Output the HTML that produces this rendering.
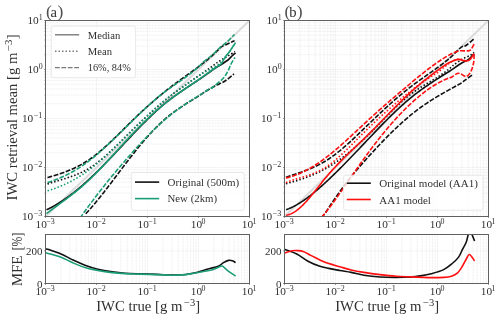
<!DOCTYPE html><html><head><meta charset="utf-8"><style>html,body{margin:0;padding:0;background:#fff;}svg{display:block;will-change:transform;} text{font-family:"Liberation Serif",serif;fill:#303030;}</style></head><body>
<svg width="500" height="320" viewBox="0 0 500 320">
<defs>
<clipPath id="ca"><rect x="45.50" y="20.50" width="204.00" height="196.00"/></clipPath>
<clipPath id="cb"><rect x="284.50" y="20.50" width="204.00" height="196.00"/></clipPath>
<clipPath id="cla"><rect x="45.50" y="234.50" width="204.00" height="49.00"/></clipPath>
<clipPath id="clb"><rect x="284.50" y="234.50" width="204.00" height="49.00"/></clipPath>
</defs>
<rect width="500" height="320" fill="#fff"/>
<g stroke="#dfdfdf" stroke-width="0.6" stroke-dasharray="0.8 0.7">
<line x1="45.50" y1="201.75" x2="249.50" y2="201.75"/>
<line x1="45.50" y1="193.12" x2="249.50" y2="193.12"/>
<line x1="45.50" y1="187.00" x2="249.50" y2="187.00"/>
<line x1="45.50" y1="182.25" x2="249.50" y2="182.25"/>
<line x1="45.50" y1="178.37" x2="249.50" y2="178.37"/>
<line x1="45.50" y1="175.09" x2="249.50" y2="175.09"/>
<line x1="45.50" y1="172.25" x2="249.50" y2="172.25"/>
<line x1="45.50" y1="169.74" x2="249.50" y2="169.74"/>
<line x1="96.50" y1="20.50" x2="96.50" y2="216.50"/>
<line x1="45.50" y1="167.50" x2="249.50" y2="167.50"/>
<line x1="45.50" y1="152.75" x2="249.50" y2="152.75"/>
<line x1="45.50" y1="144.12" x2="249.50" y2="144.12"/>
<line x1="45.50" y1="138.00" x2="249.50" y2="138.00"/>
<line x1="45.50" y1="133.25" x2="249.50" y2="133.25"/>
<line x1="45.50" y1="129.37" x2="249.50" y2="129.37"/>
<line x1="45.50" y1="126.09" x2="249.50" y2="126.09"/>
<line x1="45.50" y1="123.25" x2="249.50" y2="123.25"/>
<line x1="45.50" y1="120.74" x2="249.50" y2="120.74"/>
<line x1="147.50" y1="20.50" x2="147.50" y2="216.50"/>
<line x1="45.50" y1="118.50" x2="249.50" y2="118.50"/>
<line x1="45.50" y1="103.75" x2="249.50" y2="103.75"/>
<line x1="45.50" y1="95.12" x2="249.50" y2="95.12"/>
<line x1="45.50" y1="89.00" x2="249.50" y2="89.00"/>
<line x1="45.50" y1="84.25" x2="249.50" y2="84.25"/>
<line x1="45.50" y1="80.37" x2="249.50" y2="80.37"/>
<line x1="45.50" y1="77.09" x2="249.50" y2="77.09"/>
<line x1="45.50" y1="74.25" x2="249.50" y2="74.25"/>
<line x1="45.50" y1="71.74" x2="249.50" y2="71.74"/>
<line x1="198.50" y1="20.50" x2="198.50" y2="216.50"/>
<line x1="45.50" y1="69.50" x2="249.50" y2="69.50"/>
<line x1="45.50" y1="54.75" x2="249.50" y2="54.75"/>
<line x1="45.50" y1="46.12" x2="249.50" y2="46.12"/>
<line x1="45.50" y1="40.00" x2="249.50" y2="40.00"/>
<line x1="45.50" y1="35.25" x2="249.50" y2="35.25"/>
<line x1="45.50" y1="31.37" x2="249.50" y2="31.37"/>
<line x1="45.50" y1="28.09" x2="249.50" y2="28.09"/>
<line x1="45.50" y1="25.25" x2="249.50" y2="25.25"/>
<line x1="45.50" y1="22.74" x2="249.50" y2="22.74"/>
<line x1="60.85" y1="234.50" x2="60.85" y2="283.50"/>
<line x1="69.83" y1="234.50" x2="69.83" y2="283.50"/>
<line x1="76.21" y1="234.50" x2="76.21" y2="283.50"/>
<line x1="81.15" y1="234.50" x2="81.15" y2="283.50"/>
<line x1="85.19" y1="234.50" x2="85.19" y2="283.50"/>
<line x1="88.60" y1="234.50" x2="88.60" y2="283.50"/>
<line x1="91.56" y1="234.50" x2="91.56" y2="283.50"/>
<line x1="94.17" y1="234.50" x2="94.17" y2="283.50"/>
<line x1="96.50" y1="234.50" x2="96.50" y2="283.50"/>
<line x1="111.85" y1="234.50" x2="111.85" y2="283.50"/>
<line x1="120.83" y1="234.50" x2="120.83" y2="283.50"/>
<line x1="127.21" y1="234.50" x2="127.21" y2="283.50"/>
<line x1="132.15" y1="234.50" x2="132.15" y2="283.50"/>
<line x1="136.19" y1="234.50" x2="136.19" y2="283.50"/>
<line x1="139.60" y1="234.50" x2="139.60" y2="283.50"/>
<line x1="142.56" y1="234.50" x2="142.56" y2="283.50"/>
<line x1="145.17" y1="234.50" x2="145.17" y2="283.50"/>
<line x1="147.50" y1="234.50" x2="147.50" y2="283.50"/>
<line x1="162.85" y1="234.50" x2="162.85" y2="283.50"/>
<line x1="171.83" y1="234.50" x2="171.83" y2="283.50"/>
<line x1="178.21" y1="234.50" x2="178.21" y2="283.50"/>
<line x1="183.15" y1="234.50" x2="183.15" y2="283.50"/>
<line x1="187.19" y1="234.50" x2="187.19" y2="283.50"/>
<line x1="190.60" y1="234.50" x2="190.60" y2="283.50"/>
<line x1="193.56" y1="234.50" x2="193.56" y2="283.50"/>
<line x1="196.17" y1="234.50" x2="196.17" y2="283.50"/>
<line x1="198.50" y1="234.50" x2="198.50" y2="283.50"/>
<line x1="213.85" y1="234.50" x2="213.85" y2="283.50"/>
<line x1="222.83" y1="234.50" x2="222.83" y2="283.50"/>
<line x1="229.21" y1="234.50" x2="229.21" y2="283.50"/>
<line x1="234.15" y1="234.50" x2="234.15" y2="283.50"/>
<line x1="238.19" y1="234.50" x2="238.19" y2="283.50"/>
<line x1="241.60" y1="234.50" x2="241.60" y2="283.50"/>
<line x1="244.56" y1="234.50" x2="244.56" y2="283.50"/>
<line x1="247.17" y1="234.50" x2="247.17" y2="283.50"/>
<line x1="45.50" y1="250.83" x2="249.50" y2="250.83"/>
</g>
<line x1="45.50" y1="216.50" x2="249.50" y2="20.50" stroke="#dcdcdc" stroke-width="2.0"/>
<g stroke="#dfdfdf" stroke-width="0.6" stroke-dasharray="0.8 0.7">
<line x1="299.85" y1="20.50" x2="299.85" y2="216.50"/>
<line x1="284.50" y1="201.75" x2="488.50" y2="201.75"/>
<line x1="308.83" y1="20.50" x2="308.83" y2="216.50"/>
<line x1="284.50" y1="193.12" x2="488.50" y2="193.12"/>
<line x1="315.21" y1="20.50" x2="315.21" y2="216.50"/>
<line x1="284.50" y1="187.00" x2="488.50" y2="187.00"/>
<line x1="320.15" y1="20.50" x2="320.15" y2="216.50"/>
<line x1="284.50" y1="182.25" x2="488.50" y2="182.25"/>
<line x1="324.19" y1="20.50" x2="324.19" y2="216.50"/>
<line x1="284.50" y1="178.37" x2="488.50" y2="178.37"/>
<line x1="327.60" y1="20.50" x2="327.60" y2="216.50"/>
<line x1="284.50" y1="175.09" x2="488.50" y2="175.09"/>
<line x1="330.56" y1="20.50" x2="330.56" y2="216.50"/>
<line x1="284.50" y1="172.25" x2="488.50" y2="172.25"/>
<line x1="333.17" y1="20.50" x2="333.17" y2="216.50"/>
<line x1="284.50" y1="169.74" x2="488.50" y2="169.74"/>
<line x1="335.50" y1="20.50" x2="335.50" y2="216.50"/>
<line x1="284.50" y1="167.50" x2="488.50" y2="167.50"/>
<line x1="350.85" y1="20.50" x2="350.85" y2="216.50"/>
<line x1="284.50" y1="152.75" x2="488.50" y2="152.75"/>
<line x1="359.83" y1="20.50" x2="359.83" y2="216.50"/>
<line x1="284.50" y1="144.12" x2="488.50" y2="144.12"/>
<line x1="366.21" y1="20.50" x2="366.21" y2="216.50"/>
<line x1="284.50" y1="138.00" x2="488.50" y2="138.00"/>
<line x1="371.15" y1="20.50" x2="371.15" y2="216.50"/>
<line x1="284.50" y1="133.25" x2="488.50" y2="133.25"/>
<line x1="375.19" y1="20.50" x2="375.19" y2="216.50"/>
<line x1="284.50" y1="129.37" x2="488.50" y2="129.37"/>
<line x1="378.60" y1="20.50" x2="378.60" y2="216.50"/>
<line x1="284.50" y1="126.09" x2="488.50" y2="126.09"/>
<line x1="381.56" y1="20.50" x2="381.56" y2="216.50"/>
<line x1="284.50" y1="123.25" x2="488.50" y2="123.25"/>
<line x1="384.17" y1="20.50" x2="384.17" y2="216.50"/>
<line x1="284.50" y1="120.74" x2="488.50" y2="120.74"/>
<line x1="386.50" y1="20.50" x2="386.50" y2="216.50"/>
<line x1="284.50" y1="118.50" x2="488.50" y2="118.50"/>
<line x1="401.85" y1="20.50" x2="401.85" y2="216.50"/>
<line x1="284.50" y1="103.75" x2="488.50" y2="103.75"/>
<line x1="410.83" y1="20.50" x2="410.83" y2="216.50"/>
<line x1="284.50" y1="95.12" x2="488.50" y2="95.12"/>
<line x1="417.21" y1="20.50" x2="417.21" y2="216.50"/>
<line x1="284.50" y1="89.00" x2="488.50" y2="89.00"/>
<line x1="422.15" y1="20.50" x2="422.15" y2="216.50"/>
<line x1="284.50" y1="84.25" x2="488.50" y2="84.25"/>
<line x1="426.19" y1="20.50" x2="426.19" y2="216.50"/>
<line x1="284.50" y1="80.37" x2="488.50" y2="80.37"/>
<line x1="429.60" y1="20.50" x2="429.60" y2="216.50"/>
<line x1="284.50" y1="77.09" x2="488.50" y2="77.09"/>
<line x1="432.56" y1="20.50" x2="432.56" y2="216.50"/>
<line x1="284.50" y1="74.25" x2="488.50" y2="74.25"/>
<line x1="435.17" y1="20.50" x2="435.17" y2="216.50"/>
<line x1="284.50" y1="71.74" x2="488.50" y2="71.74"/>
<line x1="437.50" y1="20.50" x2="437.50" y2="216.50"/>
<line x1="284.50" y1="69.50" x2="488.50" y2="69.50"/>
<line x1="452.85" y1="20.50" x2="452.85" y2="216.50"/>
<line x1="284.50" y1="54.75" x2="488.50" y2="54.75"/>
<line x1="461.83" y1="20.50" x2="461.83" y2="216.50"/>
<line x1="284.50" y1="46.12" x2="488.50" y2="46.12"/>
<line x1="468.21" y1="20.50" x2="468.21" y2="216.50"/>
<line x1="284.50" y1="40.00" x2="488.50" y2="40.00"/>
<line x1="473.15" y1="20.50" x2="473.15" y2="216.50"/>
<line x1="284.50" y1="35.25" x2="488.50" y2="35.25"/>
<line x1="477.19" y1="20.50" x2="477.19" y2="216.50"/>
<line x1="284.50" y1="31.37" x2="488.50" y2="31.37"/>
<line x1="480.60" y1="20.50" x2="480.60" y2="216.50"/>
<line x1="284.50" y1="28.09" x2="488.50" y2="28.09"/>
<line x1="483.56" y1="20.50" x2="483.56" y2="216.50"/>
<line x1="284.50" y1="25.25" x2="488.50" y2="25.25"/>
<line x1="486.17" y1="20.50" x2="486.17" y2="216.50"/>
<line x1="284.50" y1="22.74" x2="488.50" y2="22.74"/>
<line x1="299.85" y1="234.50" x2="299.85" y2="283.50"/>
<line x1="308.83" y1="234.50" x2="308.83" y2="283.50"/>
<line x1="315.21" y1="234.50" x2="315.21" y2="283.50"/>
<line x1="320.15" y1="234.50" x2="320.15" y2="283.50"/>
<line x1="324.19" y1="234.50" x2="324.19" y2="283.50"/>
<line x1="327.60" y1="234.50" x2="327.60" y2="283.50"/>
<line x1="330.56" y1="234.50" x2="330.56" y2="283.50"/>
<line x1="333.17" y1="234.50" x2="333.17" y2="283.50"/>
<line x1="335.50" y1="234.50" x2="335.50" y2="283.50"/>
<line x1="350.85" y1="234.50" x2="350.85" y2="283.50"/>
<line x1="359.83" y1="234.50" x2="359.83" y2="283.50"/>
<line x1="366.21" y1="234.50" x2="366.21" y2="283.50"/>
<line x1="371.15" y1="234.50" x2="371.15" y2="283.50"/>
<line x1="375.19" y1="234.50" x2="375.19" y2="283.50"/>
<line x1="378.60" y1="234.50" x2="378.60" y2="283.50"/>
<line x1="381.56" y1="234.50" x2="381.56" y2="283.50"/>
<line x1="384.17" y1="234.50" x2="384.17" y2="283.50"/>
<line x1="386.50" y1="234.50" x2="386.50" y2="283.50"/>
<line x1="401.85" y1="234.50" x2="401.85" y2="283.50"/>
<line x1="410.83" y1="234.50" x2="410.83" y2="283.50"/>
<line x1="417.21" y1="234.50" x2="417.21" y2="283.50"/>
<line x1="422.15" y1="234.50" x2="422.15" y2="283.50"/>
<line x1="426.19" y1="234.50" x2="426.19" y2="283.50"/>
<line x1="429.60" y1="234.50" x2="429.60" y2="283.50"/>
<line x1="432.56" y1="234.50" x2="432.56" y2="283.50"/>
<line x1="435.17" y1="234.50" x2="435.17" y2="283.50"/>
<line x1="437.50" y1="234.50" x2="437.50" y2="283.50"/>
<line x1="452.85" y1="234.50" x2="452.85" y2="283.50"/>
<line x1="461.83" y1="234.50" x2="461.83" y2="283.50"/>
<line x1="468.21" y1="234.50" x2="468.21" y2="283.50"/>
<line x1="473.15" y1="234.50" x2="473.15" y2="283.50"/>
<line x1="477.19" y1="234.50" x2="477.19" y2="283.50"/>
<line x1="480.60" y1="234.50" x2="480.60" y2="283.50"/>
<line x1="483.56" y1="234.50" x2="483.56" y2="283.50"/>
<line x1="486.17" y1="234.50" x2="486.17" y2="283.50"/>
<line x1="284.50" y1="250.83" x2="488.50" y2="250.83"/>
</g>
<line x1="284.50" y1="216.50" x2="488.50" y2="20.50" stroke="#dcdcdc" stroke-width="2.0"/>
<path d="M85.70,213.79 L86.92,212.49 L88.13,211.17 L89.35,209.82 L90.57,208.45 L91.79,207.06 L93.00,205.65 L94.22,204.22 L95.44,202.77 L96.66,201.30 L97.87,199.81 L99.09,198.31 L100.31,196.80 L101.53,195.27 L102.74,193.73 L103.96,192.17 L105.18,190.61 L106.39,189.03 L107.61,187.45 L108.83,185.86 L110.05,184.26 L111.26,182.66 L112.48,181.05 L113.70,179.44 L114.92,177.82 L116.13,176.21 L117.35,174.59 L118.57,172.97 L119.79,171.35 L121.00,169.74 L122.22,168.13 L123.44,166.52 L124.66,164.92 L125.87,163.32 L127.09,161.73 L128.31,160.15 L129.52,158.58 L130.74,157.02 L131.96,155.46 L133.18,153.91 L134.39,152.38 L135.61,150.86 L136.83,149.35 L138.05,147.85 L139.26,146.36 L140.48,144.89 L141.70,143.43 L142.92,141.99 L144.13,140.56 L145.35,139.15 L146.57,137.76 L147.78,136.38 L149.00,135.02 L150.22,133.68 L151.44,132.36 L152.65,131.06 L153.87,129.77 L155.09,128.51 L156.31,127.27 L157.52,126.06 L158.74,124.86 L159.96,123.69 L161.18,122.55 L162.39,121.43 L163.61,120.33 L164.83,119.26 L166.04,118.22 L167.26,117.20 L168.48,116.21 L169.70,115.24 L170.91,114.29 L172.13,113.36 L173.35,112.45 L174.57,111.57 L175.78,110.70 L177.00,109.84 L178.22,109.00 L179.44,108.17 L180.65,107.36 L181.87,106.56 L183.09,105.76 L184.31,104.98 L185.52,104.20 L186.74,103.43 L187.96,102.66 L189.17,101.90 L190.39,101.14 L191.61,100.38 L192.83,99.62 L194.04,98.86 L195.26,98.10 L196.48,97.33 L197.70,96.56 L198.91,95.78 L200.13,95.00 L201.35,94.21 L202.57,93.40 L202.57,93.40 C202.77,93.27 203.38,92.86 203.78,92.59 C204.19,92.32 203.13,92.86 205.00,91.76 C206.87,90.66 211.67,87.79 215.00,86.00 C218.33,84.21 221.83,83.00 225.00,81.00 C228.17,79.00 232.50,75.17 234.00,74.00" fill="none" stroke="#111111" stroke-width="1.60" stroke-linejoin="round" stroke-dasharray="4.8 1.6" clip-path="url(#ca)"/>
<path d="M80.00,218.05 L81.22,216.34 L82.43,214.63 L83.65,212.94 L84.87,211.25 L86.08,209.58 L87.30,207.92 L88.52,206.26 L89.74,204.62 L90.95,202.98 L92.17,201.36 L93.39,199.75 L94.60,198.14 L95.82,196.55 L97.04,194.96 L98.25,193.38 L99.47,191.82 L100.69,190.26 L101.91,188.71 L103.12,187.16 L104.34,185.63 L105.56,184.11 L106.77,182.59 L107.99,181.08 L109.21,179.58 L110.42,178.09 L111.64,176.60 L112.86,175.13 L114.08,173.66 L115.29,172.19 L116.51,170.74 L117.73,169.29 L118.94,167.85 L120.16,166.41 L121.38,164.99 L122.59,163.56 L123.81,162.15 L125.03,160.74 L126.25,159.34 L127.46,157.94 L128.68,156.55 L129.90,155.17 L131.11,153.80 L132.33,152.43 L133.55,151.07 L134.76,149.71 L135.98,148.37 L137.20,147.03 L138.42,145.71 L139.63,144.39 L140.85,143.08 L142.07,141.78 L143.28,140.50 L144.50,139.22 L145.72,137.95 L146.93,136.70 L148.15,135.45 L149.37,134.22 L150.58,133.00 L151.80,131.79 L153.02,130.59 L154.24,129.41 L155.45,128.24 L156.67,127.08 L157.89,125.94 L159.10,124.81 L160.32,123.69 L161.54,122.59 L162.75,121.51 L163.97,120.44 L165.19,119.38 L166.41,118.34 L167.62,117.32 L168.84,116.31 L170.06,115.32 L171.27,114.35 L172.49,113.39 L173.71,112.46 L174.92,111.53 L176.14,110.63 L177.36,109.73 L178.58,108.85 L179.79,107.99 L181.01,107.13 L182.23,106.29 L183.44,105.46 L184.66,104.64 L185.88,103.83 L187.09,103.03 L188.31,102.24 L189.53,101.45 L190.75,100.67 L191.96,99.89 L193.18,99.12 L194.40,98.36 L195.61,97.60 L196.83,96.84 L198.05,96.08 L199.26,95.33 L200.48,94.57 L201.70,93.81 L202.92,93.06 L204.13,92.30 L205.35,91.54 L206.57,90.78 L206.57,90.78 C206.77,90.65 207.38,90.27 207.78,90.01 C208.19,89.75 208.13,89.74 209.00,89.24 C209.87,88.74 210.67,88.79 213.00,87.00 C215.33,85.21 220.50,81.17 223.00,78.50 C225.50,75.83 226.67,73.42 228.00,71.00 C229.33,68.58 229.83,66.25 231.00,64.00 C232.17,61.75 234.33,58.58 235.00,57.50" fill="none" stroke="#1b9e77" stroke-width="1.60" stroke-linejoin="round" stroke-dasharray="4.8 1.6" clip-path="url(#ca)"/>
<path d="M47.50,177.52 L48.71,177.19 L49.93,176.86 L51.14,176.51 L52.35,176.17 L53.57,175.81 L54.78,175.45 L55.99,175.08 L57.21,174.70 L58.42,174.31 L59.63,173.91 L60.85,173.50 L62.06,173.08 L63.27,172.65 L64.49,172.21 L65.70,171.75 L66.91,171.28 L68.13,170.80 L69.34,170.30 L70.55,169.79 L71.77,169.26 L72.98,168.72 L74.19,168.16 L75.41,167.58 L76.62,166.98 L77.83,166.37 L79.05,165.74 L80.26,165.09 L81.47,164.41 L82.69,163.72 L83.90,163.01 L85.11,162.27 L86.33,161.52 L87.54,160.74 L88.75,159.93 L89.97,159.10 L91.18,158.25 L92.39,157.38 L93.60,156.48 L94.82,155.55 L96.03,154.61 L97.24,153.64 L98.46,152.65 L99.67,151.65 L100.88,150.62 L102.10,149.58 L103.31,148.52 L104.52,147.44 L105.74,146.36 L106.95,145.25 L108.16,144.14 L109.38,143.01 L110.59,141.87 L111.80,140.72 L113.02,139.56 L114.23,138.39 L115.44,137.21 L116.66,136.03 L117.87,134.84 L119.08,133.65 L120.30,132.46 L121.51,131.26 L122.72,130.06 L123.94,128.85 L125.15,127.65 L126.36,126.45 L127.58,125.25 L128.79,124.05 L130.00,122.86 L131.22,121.67 L132.43,120.48 L133.64,119.30 L134.86,118.13 L136.07,116.97 L137.28,115.81 L138.50,114.67 L139.71,113.53 L140.92,112.39 L142.14,111.27 L143.35,110.15 L144.56,109.05 L145.78,107.95 L146.99,106.85 L148.20,105.77 L149.42,104.69 L150.63,103.62 L151.84,102.56 L153.06,101.51 L154.27,100.46 L155.48,99.42 L156.70,98.39 L157.91,97.37 L159.12,96.35 L160.34,95.35 L161.55,94.35 L162.76,93.36 L163.98,92.37 L165.19,91.40 L166.40,90.43 L167.62,89.47 L168.83,88.52 L170.04,87.57 L171.26,86.63 L172.47,85.70 L173.68,84.78 L174.90,83.87 L176.11,82.96 L177.32,82.06 L178.53,81.17 L179.75,80.29 L180.96,79.41 L182.17,78.54 L183.39,77.67 L184.60,76.81 L185.81,75.94 L187.03,75.08 L188.24,74.22 L189.45,73.36 L190.67,72.49 L191.88,71.62 L193.09,70.75 L194.31,69.87 L195.52,68.99 L196.73,68.09 L197.95,67.19 L199.16,66.28 L200.37,65.36 L201.59,64.42 L202.80,63.48 L204.01,62.51 L205.23,61.54 L206.44,60.54 L207.65,59.53 L208.87,58.50 L210.08,57.46 L211.29,56.39 L212.51,55.29 L213.72,54.18 L214.93,53.04 L216.15,51.88 L217.36,50.69 L218.57,49.48 L218.57,49.48 C218.78,49.27 219.38,48.65 219.79,48.23 C220.19,47.81 220.13,47.50 221.00,46.96 C221.87,46.42 223.58,45.64 225.00,45.00 C226.42,44.36 227.90,43.83 229.50,43.10 C231.10,42.37 233.75,41.02 234.60,40.60" fill="none" stroke="#111111" stroke-width="1.60" stroke-linejoin="round" stroke-dasharray="4.8 1.6" clip-path="url(#ca)"/>
<path d="M47.50,182.61 L48.71,182.22 L49.92,181.81 L51.13,181.40 L52.34,180.97 L53.56,180.53 L54.77,180.07 L55.98,179.61 L57.19,179.12 L58.40,178.63 L59.61,178.12 L60.82,177.59 L62.03,177.06 L63.25,176.50 L64.46,175.93 L65.67,175.35 L66.88,174.75 L68.09,174.14 L69.30,173.51 L70.51,172.86 L71.72,172.20 L72.94,171.52 L74.15,170.83 L75.36,170.12 L76.57,169.39 L77.78,168.64 L78.99,167.88 L80.20,167.10 L81.41,166.30 L82.63,165.48 L83.84,164.65 L85.05,163.80 L86.26,162.92 L87.47,162.03 L88.68,161.12 L89.89,160.20 L91.10,159.25 L92.32,158.29 L93.53,157.31 L94.74,156.32 L95.95,155.31 L97.16,154.29 L98.37,153.25 L99.58,152.20 L100.79,151.14 L102.01,150.07 L103.22,148.98 L104.43,147.88 L105.64,146.78 L106.85,145.66 L108.06,144.53 L109.27,143.40 L110.48,142.26 L111.70,141.11 L112.91,139.95 L114.12,138.78 L115.33,137.61 L116.54,136.44 L117.75,135.26 L118.96,134.08 L120.17,132.89 L121.39,131.70 L122.60,130.51 L123.81,129.31 L125.02,128.12 L126.23,126.92 L127.44,125.73 L128.65,124.53 L129.86,123.34 L131.08,122.15 L132.29,120.96 L133.50,119.77 L134.71,118.59 L135.92,117.41 L137.13,116.23 L138.34,115.06 L139.55,113.90 L140.77,112.74 L141.98,111.59 L143.19,110.44 L144.40,109.31 L145.61,108.18 L146.82,107.06 L148.03,105.95 L149.24,104.85 L150.46,103.76 L151.67,102.68 L152.88,101.61 L154.09,100.56 L155.30,99.52 L156.51,98.49 L157.72,97.47 L158.93,96.47 L160.15,95.49 L161.36,94.52 L162.57,93.56 L163.78,92.63 L164.99,91.71 L166.20,90.80 L167.41,89.92 L168.62,89.04 L169.84,88.18 L171.05,87.33 L172.26,86.48 L173.47,85.65 L174.68,84.81 L175.89,83.99 L177.10,83.16 L178.31,82.33 L179.53,81.50 L180.74,80.66 L181.95,79.82 L183.16,78.97 L184.37,78.12 L185.58,77.25 L186.79,76.36 L188.00,75.47 L189.22,74.56 L190.43,73.62 L191.64,72.67 L192.85,71.70 L194.06,70.70 L195.27,69.68 L196.48,68.63 L197.69,67.55 L198.91,66.44 L200.12,65.30 L201.33,64.13 L201.33,64.13 C201.53,63.93 202.14,63.33 202.54,62.92 C202.94,62.51 202.34,62.82 203.75,61.67 C205.16,60.52 208.29,58.36 211.00,56.00 C213.71,53.64 217.17,50.00 220.00,47.50 C222.83,45.00 225.58,43.17 228.00,41.00 C230.42,38.83 233.42,35.58 234.50,34.50" fill="none" stroke="#1b9e77" stroke-width="1.60" stroke-linejoin="round" stroke-dasharray="4.8 1.6" clip-path="url(#ca)"/>
<path d="M47.50,184.05 L48.71,183.63 L49.93,183.23 L51.14,182.84 L52.36,182.45 L53.57,182.08 L54.79,181.70 L56.00,181.33 L57.21,180.97 L58.43,180.60 L59.64,180.23 L60.86,179.87 L62.07,179.50 L63.29,179.13 L64.50,178.75 L65.71,178.37 L66.93,177.98 L68.14,177.59 L69.36,177.18 L70.57,176.77 L71.79,176.34 L73.00,175.90 L74.21,175.45 L75.43,174.98 L76.64,174.50 L77.86,173.99 L79.07,173.47 L80.29,172.93 L81.50,172.37 L82.71,171.78 L83.93,171.18 L85.14,170.54 L86.36,169.88 L87.57,169.20 L88.79,168.49 L90.00,167.74 L91.21,166.97 L92.43,166.17 L93.64,165.33 L94.86,164.48 L96.07,163.59 L97.29,162.68 L98.50,161.74 L99.71,160.79 L100.93,159.80 L102.14,158.80 L103.36,157.78 L104.57,156.74 L105.79,155.68 L107.00,154.60 L108.21,153.51 L109.43,152.40 L110.64,151.28 L111.86,150.14 L113.07,149.00 L114.29,147.84 L115.50,146.67 L116.71,145.50 L117.93,144.31 L119.14,143.12 L120.36,141.93 L121.57,140.73 L122.79,139.52 L124.00,138.32 L125.21,137.11 L126.43,135.90 L127.64,134.69 L128.86,133.49 L130.07,132.28 L131.29,131.08 L132.50,129.89 L133.71,128.70 L134.93,127.51 L136.14,126.34 L137.36,125.17 L138.57,124.00 L139.79,122.84 L141.00,121.69 L142.21,120.54 L143.43,119.41 L144.64,118.27 L145.86,117.15 L147.07,116.03 L148.29,114.92 L149.50,113.82 L150.71,112.72 L151.93,111.63 L153.14,110.55 L154.36,109.48 L155.57,108.41 L156.79,107.36 L158.00,106.31 L159.21,105.27 L160.43,104.23 L161.64,103.21 L162.86,102.19 L164.07,101.19 L165.29,100.19 L166.50,99.20 L167.71,98.22 L168.93,97.25 L170.14,96.28 L171.36,95.33 L172.57,94.39 L173.79,93.45 L175.00,92.53 L176.21,91.61 L177.43,90.71 L178.64,89.81 L179.86,88.92 L181.07,88.04 L182.29,87.17 L183.50,86.30 L184.71,85.44 L185.93,84.58 L187.14,83.73 L188.36,82.88 L189.57,82.04 L190.79,81.20 L192.00,80.36 L193.21,79.52 L194.43,78.69 L195.64,77.85 L196.86,77.02 L198.07,76.19 L199.29,75.35 L200.50,74.52 L201.71,73.68 L202.93,72.84 L204.14,72.00 L205.36,71.15 L206.57,70.30 L207.79,69.44 L209.00,68.58 L210.21,67.72 L211.43,66.84 L212.64,65.96 L213.86,65.08 L215.07,64.18 L215.07,64.18 C215.27,64.03 215.88,63.58 216.29,63.28 C216.69,62.98 216.55,63.00 217.50,62.37 C218.45,61.74 220.25,60.56 222.00,59.50 C223.75,58.44 225.83,57.33 228.00,56.00 C230.17,54.67 233.83,52.25 235.00,51.50" fill="none" stroke="#111111" stroke-width="1.60" stroke-linejoin="round" stroke-dasharray="1.5 2.0" clip-path="url(#ca)"/>
<path d="M47.50,190.77 L48.71,190.41 L49.92,190.04 L51.13,189.66 L52.34,189.26 L53.55,188.86 L54.77,188.43 L55.98,188.00 L57.19,187.55 L58.40,187.08 L59.61,186.60 L60.82,186.11 L62.03,185.60 L63.24,185.07 L64.45,184.54 L65.66,183.98 L66.88,183.41 L68.09,182.83 L69.30,182.22 L70.51,181.60 L71.72,180.97 L72.93,180.32 L74.14,179.65 L75.35,178.97 L76.56,178.26 L77.77,177.54 L78.98,176.81 L80.20,176.05 L81.41,175.28 L82.62,174.49 L83.83,173.68 L85.04,172.85 L86.25,172.00 L87.46,171.13 L88.67,170.25 L89.88,169.34 L91.09,168.42 L92.30,167.49 L93.52,166.53 L94.73,165.56 L95.94,164.57 L97.15,163.57 L98.36,162.56 L99.57,161.53 L100.78,160.49 L101.99,159.43 L103.20,158.37 L104.41,157.29 L105.62,156.19 L106.84,155.09 L108.05,153.98 L109.26,152.86 L110.47,151.73 L111.68,150.59 L112.89,149.44 L114.10,148.29 L115.31,147.12 L116.52,145.96 L117.73,144.78 L118.95,143.60 L120.16,142.41 L121.37,141.22 L122.58,140.03 L123.79,138.83 L125.00,137.63 L126.21,136.43 L127.42,135.22 L128.63,134.01 L129.84,132.81 L131.05,131.60 L132.27,130.39 L133.48,129.18 L134.69,127.98 L135.90,126.78 L137.11,125.58 L138.32,124.38 L139.53,123.19 L140.74,122.00 L141.95,120.82 L143.16,119.64 L144.38,118.47 L145.59,117.30 L146.80,116.14 L148.01,115.00 L149.22,113.85 L150.43,112.72 L151.64,111.60 L152.85,110.49 L154.06,109.39 L155.27,108.30 L156.48,107.22 L157.70,106.15 L158.91,105.10 L160.12,104.06 L161.33,103.04 L162.54,102.03 L163.75,101.04 L164.96,100.06 L166.17,99.10 L167.38,98.15 L168.59,97.21 L169.80,96.29 L171.02,95.38 L172.23,94.48 L173.44,93.59 L174.65,92.71 L175.86,91.84 L177.07,90.98 L178.28,90.13 L179.49,89.28 L180.70,88.43 L181.91,87.59 L183.12,86.76 L184.34,85.92 L185.55,85.09 L186.76,84.26 L187.97,83.43 L189.18,82.61 L190.39,81.78 L191.60,80.94 L192.81,80.11 L194.02,79.27 L195.23,78.43 L196.45,77.58 L197.66,76.72 L198.87,75.86 L200.08,74.99 L200.08,74.99 C200.28,74.85 200.89,74.41 201.29,74.11 C201.69,73.82 200.21,74.41 202.50,73.23 C204.79,72.04 211.92,68.87 215.00,67.00 C218.08,65.13 219.33,63.58 221.00,62.00 C222.67,60.42 223.50,59.33 225.00,57.50 C226.50,55.67 228.28,53.42 230.00,51.00 C231.72,48.58 234.42,44.33 235.30,43.00" fill="none" stroke="#1b9e77" stroke-width="1.60" stroke-linejoin="round" stroke-dasharray="1.5 2.0" clip-path="url(#ca)"/>
<path d="M46.50,209.84 L47.71,209.26 L48.92,208.67 L50.13,208.06 L51.34,207.43 L52.55,206.78 L53.76,206.11 L54.97,205.42 L56.18,204.71 L57.39,203.99 L58.60,203.25 L59.81,202.49 L61.02,201.71 L62.23,200.92 L63.44,200.11 L64.65,199.28 L65.86,198.44 L67.07,197.58 L68.28,196.70 L69.49,195.81 L70.70,194.90 L71.91,193.98 L73.12,193.04 L74.33,192.09 L75.54,191.12 L76.75,190.14 L77.96,189.14 L79.17,188.13 L80.38,187.11 L81.59,186.07 L82.80,185.02 L84.01,183.95 L85.22,182.87 L86.43,181.78 L87.64,180.68 L88.85,179.57 L90.06,178.44 L91.27,177.30 L92.48,176.15 L93.69,174.99 L94.90,173.82 L96.11,172.64 L97.32,171.45 L98.53,170.26 L99.74,169.05 L100.95,167.84 L102.16,166.62 L103.37,165.39 L104.58,164.15 L105.79,162.91 L107.00,161.66 L108.21,160.41 L109.42,159.15 L110.63,157.89 L111.84,156.62 L113.05,155.35 L114.26,154.08 L115.47,152.80 L116.68,151.52 L117.89,150.24 L119.10,148.95 L120.31,147.67 L121.52,146.38 L122.73,145.09 L123.94,143.80 L125.15,142.52 L126.36,141.23 L127.57,139.94 L128.78,138.66 L129.99,137.38 L131.20,136.10 L132.41,134.82 L133.62,133.55 L134.83,132.28 L136.04,131.01 L137.25,129.75 L138.46,128.50 L139.67,127.25 L140.88,126.01 L142.09,124.78 L143.30,123.55 L144.51,122.34 L145.72,121.13 L146.93,119.93 L148.14,118.74 L149.35,117.56 L150.56,116.39 L151.77,115.23 L152.98,114.09 L154.19,112.96 L155.40,111.83 L156.61,110.73 L157.82,109.63 L159.03,108.56 L160.24,107.49 L161.45,106.44 L162.66,105.41 L163.87,104.39 L165.08,103.40 L166.29,102.41 L167.50,101.45 L168.71,100.50 L169.92,99.57 L171.13,98.65 L172.34,97.74 L173.55,96.85 L174.76,95.97 L175.97,95.10 L177.18,94.24 L178.39,93.39 L179.60,92.55 L180.81,91.72 L182.02,90.89 L183.23,90.07 L184.44,89.26 L185.65,88.45 L186.86,87.64 L188.07,86.84 L189.28,86.04 L190.49,85.24 L191.70,84.44 L192.91,83.64 L194.12,82.84 L195.33,82.04 L196.54,81.23 L197.75,80.42 L198.96,79.61 L200.17,78.79 L201.38,77.97 L202.59,77.13 L202.59,77.13 C202.79,76.99 203.40,76.58 203.80,76.29 C204.20,76.01 203.14,76.78 205.01,75.45 C206.88,74.11 212.17,70.21 215.00,68.30 C217.83,66.39 219.83,65.38 222.00,64.00 C224.17,62.62 226.33,61.33 228.00,60.00 C229.67,58.67 230.75,57.20 232.00,56.00 C233.25,54.80 234.92,53.33 235.50,52.80" fill="none" stroke="#111111" stroke-width="1.60" stroke-linejoin="round" clip-path="url(#ca)"/>
<path d="M46.50,213.66 L47.71,212.73 L48.92,211.81 L50.13,210.90 L51.34,209.99 L52.55,209.09 L53.76,208.19 L54.97,207.30 L56.17,206.40 L57.38,205.51 L58.59,204.62 L59.80,203.73 L61.01,202.84 L62.22,201.95 L63.43,201.05 L64.64,200.16 L65.85,199.25 L67.06,198.34 L68.27,197.43 L69.48,196.51 L70.69,195.58 L71.90,194.65 L73.10,193.70 L74.31,192.75 L75.52,191.78 L76.73,190.81 L77.94,189.82 L79.15,188.81 L80.36,187.80 L81.57,186.77 L82.78,185.72 L83.99,184.66 L85.20,183.57 L86.41,182.48 L87.62,181.36 L88.83,180.23 L90.03,179.08 L91.24,177.91 L92.45,176.73 L93.66,175.54 L94.87,174.33 L96.08,173.11 L97.29,171.88 L98.50,170.63 L99.71,169.38 L100.92,168.12 L102.13,166.84 L103.34,165.56 L104.55,164.27 L105.76,162.97 L106.97,161.67 L108.17,160.36 L109.38,159.05 L110.59,157.73 L111.80,156.41 L113.01,155.09 L114.22,153.76 L115.43,152.43 L116.64,151.11 L117.85,149.78 L119.06,148.45 L120.27,147.12 L121.48,145.80 L122.69,144.48 L123.90,143.16 L125.10,141.85 L126.31,140.54 L127.52,139.24 L128.73,137.94 L129.94,136.65 L131.15,135.37 L132.36,134.09 L133.57,132.82 L134.78,131.55 L135.99,130.30 L137.20,129.05 L138.41,127.81 L139.62,126.58 L140.83,125.35 L142.03,124.14 L143.24,122.94 L144.45,121.75 L145.66,120.56 L146.87,119.39 L148.08,118.23 L149.29,117.08 L150.50,115.94 L151.71,114.82 L152.92,113.71 L154.13,112.61 L155.34,111.52 L156.55,110.45 L157.76,109.39 L158.97,108.34 L160.17,107.31 L161.38,106.30 L162.59,105.30 L163.80,104.31 L165.01,103.34 L166.22,102.39 L167.43,101.45 L168.64,100.52 L169.85,99.61 L171.06,98.71 L172.27,97.82 L173.48,96.94 L174.69,96.07 L175.90,95.20 L177.10,94.35 L178.31,93.50 L179.52,92.66 L180.73,91.83 L181.94,91.00 L183.15,90.17 L184.36,89.35 L185.57,88.53 L186.78,87.71 L187.99,86.90 L189.20,86.08 L190.41,85.26 L191.62,84.45 L192.83,83.63 L194.03,82.80 L195.24,81.98 L196.45,81.15 L197.66,80.31 L198.87,79.47 L200.08,78.62 L200.08,78.62 C200.28,78.48 200.89,78.05 201.29,77.77 C201.69,77.48 200.22,78.53 202.50,76.90 C204.78,75.28 211.92,70.15 215.00,68.00 C218.08,65.85 219.33,65.75 221.00,64.00 C222.67,62.25 223.50,59.67 225.00,57.50 C226.50,55.33 228.25,53.48 230.00,51.00 C231.75,48.52 234.58,44.00 235.50,42.60" fill="none" stroke="#1b9e77" stroke-width="1.60" stroke-linejoin="round" clip-path="url(#ca)"/>
<path d="M321.40,217.50 L324.75,213.98 L325.97,212.03 L327.18,210.11 L328.40,208.21 L329.62,206.33 L330.84,204.48 L332.05,202.66 L333.27,200.86 L334.49,199.08 L335.71,197.32 L336.92,195.59 L338.14,193.88 L339.36,192.19 L340.58,190.52 L341.79,188.87 L343.01,187.24 L344.23,185.63 L345.45,184.04 L346.66,182.46 L347.88,180.90 L349.10,179.36 L350.32,177.84 L351.53,176.33 L352.75,174.83 L353.97,173.35 L355.19,171.89 L356.40,170.43 L357.62,169.00 L358.84,167.57 L360.05,166.15 L361.27,164.75 L362.49,163.35 L363.71,161.97 L364.92,160.60 L366.14,159.23 L367.36,157.87 L368.58,156.52 L369.79,155.18 L371.01,153.85 L372.23,152.52 L373.45,151.20 L374.66,149.88 L375.88,148.57 L377.10,147.27 L378.32,145.98 L379.53,144.69 L380.75,143.41 L381.97,142.14 L383.19,140.88 L384.40,139.63 L385.62,138.38 L386.84,137.15 L388.06,135.92 L389.27,134.70 L390.49,133.50 L391.71,132.30 L392.93,131.12 L394.14,129.94 L395.36,128.78 L396.58,127.62 L397.79,126.48 L399.01,125.35 L400.23,124.23 L401.45,123.12 L402.66,122.03 L403.88,120.95 L405.10,119.88 L406.32,118.82 L407.53,117.78 L408.75,116.75 L409.97,115.74 L411.19,114.74 L412.40,113.75 L413.62,112.78 L414.84,111.82 L416.06,110.88 L417.27,109.95 L418.49,109.04 L419.71,108.14 L420.93,107.26 L422.14,106.39 L423.36,105.54 L424.58,104.70 L425.80,103.87 L427.01,103.05 L428.23,102.25 L429.45,101.45 L430.66,100.67 L431.88,99.90 L433.10,99.13 L434.32,98.38 L435.53,97.64 L436.75,96.90 L437.97,96.17 L439.19,95.45 L440.40,94.74 L441.62,94.03 L442.84,93.33 L444.06,92.63 L445.27,91.94 L446.49,91.26 L447.71,90.58 L448.93,89.90 L450.14,89.22 L451.36,88.55 L452.58,87.88 L453.80,87.21 L455.01,86.55 L456.23,85.88 L457.45,85.21 L458.67,84.55 L458.67,84.55 C458.87,84.44 459.48,84.10 459.88,83.88 C460.29,83.66 460.23,83.83 461.10,83.21 C461.97,82.60 463.08,81.70 465.10,80.20 C467.12,78.70 471.85,75.20 473.20,74.20" fill="none" stroke="#111111" stroke-width="1.60" stroke-linejoin="round" stroke-dasharray="4.8 1.6" clip-path="url(#cb)"/>
<path d="M321.40,217.50 L324.75,213.68 L325.97,212.12 L327.20,210.54 L328.42,208.94 L329.64,207.32 L330.86,205.69 L332.09,204.04 L333.31,202.38 L334.53,200.70 L335.75,199.01 L336.98,197.31 L338.20,195.59 L339.42,193.87 L340.64,192.14 L341.87,190.40 L343.09,188.66 L344.31,186.91 L345.53,185.15 L346.76,183.39 L347.98,181.63 L349.20,179.86 L350.42,178.10 L351.65,176.33 L352.87,174.56 L354.09,172.80 L355.31,171.04 L356.54,169.28 L357.76,167.53 L358.98,165.78 L360.21,164.04 L361.43,162.31 L362.65,160.59 L363.87,158.87 L365.10,157.17 L366.32,155.48 L367.54,153.80 L368.76,152.13 L369.99,150.47 L371.21,148.83 L372.43,147.21 L373.65,145.59 L374.88,143.99 L376.10,142.41 L377.32,140.83 L378.54,139.27 L379.77,137.73 L380.99,136.20 L382.21,134.68 L383.43,133.18 L384.66,131.70 L385.88,130.22 L387.10,128.77 L388.32,127.32 L389.55,125.90 L390.77,124.49 L391.99,123.09 L393.22,121.71 L394.44,120.34 L395.66,118.99 L396.88,117.66 L398.11,116.34 L399.33,115.04 L400.55,113.75 L401.77,112.48 L403.00,111.23 L404.22,110.00 L405.44,108.78 L406.66,107.57 L407.89,106.39 L409.11,105.22 L410.33,104.07 L411.55,102.93 L412.78,101.81 L414.00,100.72 L415.22,99.63 L416.44,98.57 L417.67,97.53 L418.89,96.50 L420.11,95.50 L421.34,94.51 L422.56,93.55 L423.78,92.60 L425.00,91.67 L426.23,90.77 L427.45,89.89 L428.67,89.02 L429.89,88.18 L431.12,87.36 L432.34,86.56 L433.56,85.79 L434.78,85.03 L436.01,84.30 L437.23,83.59 L438.45,82.91 L439.67,82.25 L440.90,81.61 L442.12,81.00 L443.34,80.41 L444.56,79.84 L445.79,79.30 L447.01,78.79 L448.23,78.30 L449.45,77.84 L449.45,77.84 C449.66,77.76 450.27,77.54 450.68,77.40 C451.08,77.26 450.80,77.65 451.90,76.99 C453.00,76.32 455.73,73.90 457.25,73.40 C458.77,72.90 459.50,73.48 461.00,74.00 C462.50,74.52 464.62,76.88 466.25,76.50 C467.88,76.12 469.52,74.04 470.75,71.75 C471.98,69.46 473.04,65.71 473.60,62.75 C474.16,59.79 474.02,55.46 474.10,54.00" fill="none" stroke="#ff0f0f" stroke-width="1.60" stroke-linejoin="round" stroke-dasharray="4.8 1.6" clip-path="url(#cb)"/>
<path d="M285.90,177.32 L287.11,176.90 L288.32,176.49 L289.54,176.08 L290.75,175.67 L291.96,175.27 L293.17,174.86 L294.38,174.45 L295.59,174.05 L296.81,173.64 L298.02,173.22 L299.23,172.81 L300.44,172.38 L301.65,171.95 L302.86,171.52 L304.08,171.08 L305.29,170.62 L306.50,170.16 L307.71,169.69 L308.92,169.21 L310.13,168.72 L311.35,168.21 L312.56,167.69 L313.77,167.15 L314.98,166.60 L316.19,166.04 L317.40,165.45 L318.62,164.85 L319.83,164.23 L321.04,163.59 L322.25,162.92 L323.46,162.24 L324.67,161.53 L325.89,160.81 L327.10,160.05 L328.31,159.27 L329.52,158.47 L330.73,157.64 L331.94,156.79 L333.16,155.92 L334.37,155.03 L335.58,154.11 L336.79,153.18 L338.00,152.22 L339.21,151.25 L340.43,150.26 L341.64,149.26 L342.85,148.24 L344.06,147.20 L345.27,146.15 L346.48,145.08 L347.70,144.00 L348.91,142.92 L350.12,141.81 L351.33,140.70 L352.54,139.58 L353.75,138.45 L354.97,137.32 L356.18,136.17 L357.39,135.02 L358.60,133.86 L359.81,132.70 L361.02,131.54 L362.24,130.37 L363.45,129.20 L364.66,128.03 L365.87,126.85 L367.08,125.68 L368.29,124.51 L369.51,123.34 L370.72,122.17 L371.93,121.00 L373.14,119.84 L374.35,118.68 L375.56,117.52 L376.78,116.37 L377.99,115.22 L379.20,114.08 L380.41,112.93 L381.62,111.80 L382.83,110.67 L384.05,109.54 L385.26,108.42 L386.47,107.31 L387.68,106.20 L388.89,105.10 L390.10,104.01 L391.32,102.92 L392.53,101.85 L393.74,100.78 L394.95,99.71 L396.16,98.66 L397.37,97.61 L398.59,96.58 L399.80,95.55 L401.01,94.53 L402.22,93.53 L403.43,92.53 L404.64,91.54 L405.86,90.57 L407.07,89.60 L408.28,88.65 L409.49,87.71 L410.70,86.78 L411.91,85.86 L413.13,84.95 L414.34,84.06 L415.55,83.17 L416.76,82.29 L417.97,81.42 L419.18,80.56 L420.40,79.70 L421.61,78.84 L422.82,77.99 L424.03,77.14 L425.24,76.30 L426.45,75.45 L427.67,74.60 L428.88,73.76 L430.09,72.91 L431.30,72.05 L432.51,71.20 L433.72,70.34 L434.94,69.47 L436.15,68.59 L437.36,67.71 L438.57,66.82 L439.78,65.92 L440.99,65.01 L442.21,64.09 L443.42,63.16 L444.63,62.21 L445.84,61.25 L447.05,60.27 L448.26,59.28 L449.48,58.27 L449.48,58.27 C449.68,58.10 450.28,57.59 450.69,57.24 C451.09,56.89 450.98,57.08 451.90,56.19 C452.82,55.30 454.56,53.47 456.20,51.90 C457.84,50.33 460.12,47.87 461.75,46.80 C463.38,45.73 463.94,46.87 466.00,45.50 C468.06,44.13 472.75,39.75 474.10,38.60" fill="none" stroke="#111111" stroke-width="1.60" stroke-linejoin="round" stroke-dasharray="4.8 1.6" clip-path="url(#cb)"/>
<path d="M285.90,177.94 L287.11,177.67 L288.32,177.38 L289.54,177.07 L290.75,176.72 L291.96,176.36 L293.17,175.97 L294.38,175.56 L295.59,175.12 L296.81,174.67 L298.02,174.19 L299.23,173.68 L300.44,173.16 L301.65,172.61 L302.86,172.05 L304.08,171.46 L305.29,170.85 L306.50,170.22 L307.71,169.57 L308.92,168.90 L310.13,168.21 L311.35,167.50 L312.56,166.78 L313.77,166.03 L314.98,165.27 L316.19,164.49 L317.40,163.69 L318.62,162.88 L319.83,162.04 L321.04,161.19 L322.25,160.33 L323.46,159.45 L324.67,158.55 L325.89,157.64 L327.10,156.71 L328.31,155.77 L329.52,154.81 L330.73,153.84 L331.94,152.86 L333.16,151.86 L334.37,150.86 L335.58,149.84 L336.79,148.81 L338.00,147.77 L339.21,146.72 L340.43,145.66 L341.64,144.59 L342.85,143.52 L344.06,142.43 L345.27,141.34 L346.48,140.25 L347.70,139.15 L348.91,138.04 L350.12,136.93 L351.33,135.81 L352.54,134.69 L353.75,133.57 L354.97,132.44 L356.18,131.32 L357.39,130.19 L358.60,129.06 L359.81,127.93 L361.02,126.80 L362.24,125.67 L363.45,124.55 L364.66,123.42 L365.87,122.30 L367.08,121.18 L368.29,120.06 L369.51,118.95 L370.72,117.85 L371.93,116.75 L373.14,115.65 L374.35,114.56 L375.56,113.47 L376.78,112.38 L377.99,111.30 L379.20,110.22 L380.41,109.15 L381.62,108.08 L382.83,107.01 L384.05,105.95 L385.26,104.89 L386.47,103.83 L387.68,102.78 L388.89,101.73 L390.10,100.68 L391.32,99.64 L392.53,98.60 L393.74,97.56 L394.95,96.52 L396.16,95.49 L397.37,94.46 L398.59,93.43 L399.80,92.40 L401.01,91.38 L402.22,90.36 L403.43,89.34 L404.64,88.32 L405.86,87.30 L407.07,86.28 L408.28,85.27 L409.49,84.26 L410.70,83.25 L411.91,82.24 L413.13,81.23 L414.34,80.22 L415.55,79.22 L416.76,78.22 L417.97,77.23 L419.18,76.24 L420.40,75.26 L421.61,74.28 L422.82,73.31 L424.03,72.35 L425.24,71.39 L426.45,70.44 L427.67,69.51 L428.88,68.58 L430.09,67.66 L431.30,66.75 L432.51,65.86 L433.72,64.98 L434.94,64.10 L436.15,63.25 L437.36,62.40 L438.57,61.57 L439.78,60.76 L440.99,59.96 L442.21,59.18 L443.42,58.41 L444.63,57.67 L445.84,56.94 L447.05,56.22 L448.26,55.53 L449.48,54.86 L449.48,54.86 C449.68,54.75 450.28,54.42 450.69,54.21 C451.09,53.99 450.43,54.13 451.90,53.58 C453.37,53.02 456.92,51.35 459.50,50.90 C462.08,50.45 465.52,51.09 467.40,50.90 C469.27,50.71 469.63,50.87 470.75,49.75 C471.87,48.63 473.54,45.12 474.10,44.20" fill="none" stroke="#ff0f0f" stroke-width="1.60" stroke-linejoin="round" stroke-dasharray="4.8 1.6" clip-path="url(#cb)"/>
<path d="M285.90,183.72 L287.12,183.40 L288.33,183.07 L289.55,182.74 L290.77,182.41 L291.98,182.07 L293.20,181.72 L294.41,181.37 L295.63,181.01 L296.85,180.64 L298.06,180.26 L299.28,179.88 L300.50,179.48 L301.71,179.08 L302.93,178.67 L304.14,178.25 L305.36,177.81 L306.58,177.37 L307.79,176.91 L309.01,176.45 L310.23,175.97 L311.44,175.48 L312.66,174.97 L313.88,174.45 L315.09,173.92 L316.31,173.37 L317.52,172.81 L318.74,172.23 L319.96,171.64 L321.17,171.03 L322.39,170.41 L323.61,169.76 L324.82,169.10 L326.04,168.42 L327.25,167.73 L328.47,167.01 L329.69,166.28 L330.90,165.53 L332.12,164.75 L333.34,163.97 L334.55,163.16 L335.77,162.33 L336.98,161.49 L338.20,160.63 L339.42,159.76 L340.63,158.87 L341.85,157.96 L343.07,157.04 L344.28,156.10 L345.50,155.15 L346.72,154.18 L347.93,153.19 L349.15,152.20 L350.36,151.18 L351.58,150.16 L352.80,149.12 L354.01,148.07 L355.23,147.00 L356.45,145.93 L357.66,144.84 L358.88,143.73 L360.09,142.62 L361.31,141.49 L362.53,140.36 L363.74,139.21 L364.96,138.05 L366.18,136.88 L367.39,135.70 L368.61,134.52 L369.82,133.32 L371.04,132.11 L372.26,130.90 L373.47,129.67 L374.69,128.44 L375.91,127.21 L377.12,125.97 L378.34,124.73 L379.56,123.49 L380.77,122.24 L381.99,121.00 L383.20,119.76 L384.42,118.52 L385.64,117.28 L386.85,116.05 L388.07,114.82 L389.29,113.60 L390.50,112.38 L391.72,111.18 L392.93,109.98 L394.15,108.79 L395.37,107.62 L396.58,106.46 L397.80,105.31 L399.02,104.17 L400.23,103.05 L401.45,101.95 L402.67,100.87 L403.88,99.80 L405.10,98.76 L406.31,97.73 L407.53,96.73 L408.75,95.75 L409.96,94.79 L411.18,93.86 L412.40,92.95 L413.61,92.07 L414.83,91.22 L416.04,90.38 L417.26,89.57 L418.48,88.77 L419.69,87.99 L420.91,87.22 L422.13,86.47 L423.34,85.72 L424.56,84.99 L425.77,84.26 L426.99,83.53 L428.21,82.81 L429.42,82.09 L430.64,81.37 L431.86,80.64 L433.07,79.91 L434.29,79.17 L435.51,78.43 L436.72,77.67 L437.94,76.90 L439.15,76.12 L440.37,75.32 L441.59,74.51 L442.80,73.67 L444.02,72.81 L445.24,71.93 L446.45,71.02 L447.67,70.08 L448.88,69.12 L450.10,68.12 L451.32,67.09 L451.32,67.09 C451.52,66.92 452.13,66.39 452.53,66.03 C452.94,65.67 452.21,66.03 453.75,64.93 C455.29,63.82 458.92,61.05 461.75,59.40 C464.58,57.75 468.69,56.18 470.75,55.00 C472.81,53.82 473.54,52.75 474.10,52.30" fill="none" stroke="#111111" stroke-width="1.60" stroke-linejoin="round" stroke-dasharray="1.5 2.0" clip-path="url(#cb)"/>
<path d="M285.90,182.63 L287.11,182.14 L288.32,181.67 L289.54,181.22 L290.75,180.79 L291.96,180.38 L293.17,179.98 L294.39,179.59 L295.60,179.21 L296.81,178.84 L298.02,178.47 L299.24,178.11 L300.45,177.75 L301.66,177.39 L302.88,177.03 L304.09,176.66 L305.30,176.29 L306.51,175.91 L307.72,175.52 L308.94,175.12 L310.15,174.70 L311.36,174.27 L312.57,173.82 L313.79,173.35 L315.00,172.86 L316.21,172.35 L317.42,171.81 L318.64,171.24 L319.85,170.64 L321.06,170.01 L322.27,169.35 L323.49,168.65 L324.70,167.91 L325.91,167.14 L327.12,166.33 L328.34,165.49 L329.55,164.62 L330.76,163.72 L331.97,162.79 L333.19,161.83 L334.40,160.84 L335.61,159.83 L336.82,158.80 L338.04,157.74 L339.25,156.67 L340.46,155.57 L341.67,154.46 L342.89,153.33 L344.10,152.18 L345.31,151.02 L346.52,149.85 L347.74,148.67 L348.95,147.48 L350.16,146.28 L351.38,145.07 L352.59,143.86 L353.80,142.64 L355.01,141.42 L356.22,140.21 L357.44,138.99 L358.65,137.77 L359.86,136.56 L361.07,135.35 L362.29,134.15 L363.50,132.95 L364.71,131.76 L365.92,130.58 L367.14,129.40 L368.35,128.23 L369.56,127.06 L370.77,125.90 L371.99,124.74 L373.20,123.60 L374.41,122.45 L375.62,121.32 L376.84,120.19 L378.05,119.06 L379.26,117.94 L380.48,116.83 L381.69,115.72 L382.90,114.62 L384.11,113.53 L385.32,112.44 L386.54,111.36 L387.75,110.28 L388.96,109.21 L390.17,108.14 L391.39,107.08 L392.60,106.03 L393.81,104.98 L395.02,103.94 L396.24,102.90 L397.45,101.87 L398.66,100.85 L399.88,99.83 L401.09,98.81 L402.30,97.81 L403.51,96.81 L404.73,95.81 L405.94,94.83 L407.15,93.85 L408.36,92.88 L409.57,91.92 L410.79,90.97 L412.00,90.02 L413.21,89.09 L414.42,88.16 L415.64,87.25 L416.85,86.34 L418.06,85.45 L419.27,84.57 L420.49,83.70 L421.70,82.84 L422.91,81.99 L424.12,81.15 L425.34,80.33 L426.55,79.52 L427.76,78.72 L428.98,77.94 L430.19,77.17 L431.40,76.41 L432.61,75.67 L433.82,74.94 L433.82,74.94 C434.03,74.83 434.63,74.47 435.04,74.23 C435.44,74.00 434.59,74.83 436.25,73.54 C437.91,72.25 442.54,68.42 445.00,66.50 C447.46,64.58 448.75,63.25 451.00,62.00 C453.25,60.75 456.15,59.25 458.50,59.00 C460.85,58.75 463.25,60.45 465.10,60.50 C466.95,60.55 468.10,60.55 469.60,59.30 C471.10,58.05 473.35,54.05 474.10,53.00" fill="none" stroke="#ff0f0f" stroke-width="1.60" stroke-linejoin="round" stroke-dasharray="1.5 2.0" clip-path="url(#cb)"/>
<path d="M286.10,209.82 L287.31,209.36 L288.52,208.87 L289.73,208.35 L290.94,207.81 L292.15,207.23 L293.36,206.63 L294.57,205.99 L295.78,205.33 L296.99,204.65 L298.20,203.93 L299.41,203.20 L300.62,202.44 L301.83,201.65 L303.04,200.84 L304.25,200.01 L305.46,199.16 L306.67,198.29 L307.88,197.39 L309.09,196.48 L310.30,195.55 L311.51,194.60 L312.72,193.63 L313.94,192.64 L315.15,191.64 L316.36,190.62 L317.57,189.59 L318.78,188.54 L319.99,187.48 L321.20,186.41 L322.41,185.32 L323.62,184.22 L324.83,183.12 L326.04,182.00 L327.25,180.87 L328.46,179.73 L329.67,178.58 L330.88,177.43 L332.09,176.27 L333.30,175.10 L334.51,173.92 L335.72,172.73 L336.93,171.54 L338.14,170.34 L339.35,169.14 L340.56,167.92 L341.77,166.71 L342.98,165.48 L344.19,164.26 L345.40,163.02 L346.61,161.79 L347.82,160.54 L349.03,159.30 L350.24,158.05 L351.45,156.79 L352.66,155.54 L353.87,154.28 L355.08,153.01 L356.29,151.75 L357.50,150.48 L358.71,149.21 L359.92,147.94 L361.13,146.67 L362.34,145.40 L363.55,144.12 L364.76,142.85 L365.97,141.57 L367.18,140.30 L368.39,139.02 L369.61,137.75 L370.82,136.48 L372.03,135.21 L373.24,133.94 L374.45,132.67 L375.66,131.41 L376.87,130.14 L378.08,128.89 L379.29,127.63 L380.50,126.38 L381.71,125.14 L382.92,123.90 L384.13,122.66 L385.34,121.44 L386.55,120.22 L387.76,119.00 L388.97,117.80 L390.18,116.60 L391.39,115.41 L392.60,114.22 L393.81,113.05 L395.02,111.89 L396.23,110.74 L397.44,109.59 L398.65,108.46 L399.86,107.34 L401.07,106.23 L402.28,105.14 L403.49,104.05 L404.70,102.98 L405.91,101.92 L407.12,100.88 L408.33,99.85 L409.54,98.84 L410.75,97.84 L411.96,96.85 L413.17,95.88 L414.38,94.93 L415.59,93.99 L416.80,93.06 L418.01,92.15 L419.22,91.24 L420.43,90.35 L421.64,89.47 L422.85,88.60 L424.06,87.75 L425.28,86.90 L426.49,86.06 L427.70,85.23 L428.91,84.41 L430.12,83.59 L431.33,82.79 L432.54,81.99 L433.75,81.19 L434.96,80.40 L436.17,79.62 L437.38,78.84 L438.59,78.07 L439.80,77.30 L441.01,76.53 L442.22,75.77 L443.43,75.01 L444.64,74.25 L445.85,73.49 L447.06,72.73 L448.27,71.97 L449.48,71.22 L449.48,71.22 C449.68,71.09 450.29,70.71 450.69,70.46 C451.09,70.20 450.06,70.94 451.90,69.70 C453.74,68.45 459.17,64.58 461.75,63.00 C464.33,61.42 465.34,61.72 467.40,60.20 C469.46,58.68 472.98,54.95 474.10,53.90" fill="none" stroke="#111111" stroke-width="1.60" stroke-linejoin="round" clip-path="url(#cb)"/>
<path d="M286.10,215.26 L287.32,215.06 L288.53,214.76 L289.75,214.37 L290.96,213.88 L292.18,213.30 L293.39,212.65 L294.61,211.91 L295.82,211.09 L297.04,210.20 L298.25,209.25 L299.47,208.22 L300.68,207.14 L301.90,206.00 L303.11,204.81 L304.33,203.56 L305.54,202.28 L306.76,200.95 L307.97,199.58 L309.19,198.18 L310.40,196.74 L311.62,195.29 L312.83,193.81 L314.05,192.31 L315.26,190.79 L316.48,189.27 L317.69,187.74 L318.91,186.20 L320.12,184.67 L321.34,183.14 L322.55,181.62 L323.77,180.11 L324.98,178.62 L326.20,177.15 L327.42,175.70 L328.63,174.28 L329.85,172.88 L331.06,171.50 L332.28,170.14 L333.49,168.80 L334.71,167.48 L335.92,166.17 L337.14,164.89 L338.35,163.62 L339.57,162.36 L340.78,161.12 L342.00,159.89 L343.21,158.68 L344.43,157.47 L345.64,156.27 L346.86,155.09 L348.07,153.91 L349.29,152.73 L350.50,151.56 L351.72,150.40 L352.93,149.24 L354.15,148.09 L355.36,146.93 L356.58,145.78 L357.79,144.63 L359.01,143.47 L360.22,142.32 L361.44,141.16 L362.65,139.99 L363.87,138.82 L365.08,137.65 L366.30,136.47 L367.52,135.27 L368.73,134.08 L369.95,132.87 L371.16,131.66 L372.38,130.44 L373.59,129.21 L374.81,127.98 L376.02,126.75 L377.24,125.51 L378.45,124.27 L379.67,123.03 L380.88,121.78 L382.10,120.54 L383.31,119.29 L384.53,118.04 L385.74,116.79 L386.96,115.54 L388.17,114.30 L389.39,113.05 L390.60,111.81 L391.82,110.58 L393.03,109.34 L394.25,108.11 L395.46,106.89 L396.68,105.67 L397.89,104.46 L399.11,103.25 L400.32,102.06 L401.54,100.87 L402.75,99.68 L403.97,98.51 L405.18,97.35 L406.40,96.20 L407.62,95.06 L408.83,93.93 L410.05,92.81 L411.26,91.70 L412.48,90.61 L413.69,89.52 L414.91,88.45 L416.12,87.38 L417.34,86.33 L418.55,85.29 L419.77,84.26 L420.98,83.24 L422.20,82.23 L423.41,81.23 L424.63,80.24 L425.84,79.26 L427.06,78.29 L428.27,77.33 L429.49,76.39 L430.70,75.45 L431.92,74.52 L433.13,73.60 L434.35,72.70 L435.56,71.80 L436.78,70.91 L437.99,70.03 L439.21,69.16 L440.42,68.31 L441.64,67.46 L442.85,66.62 L444.07,65.79 L444.07,65.79 C444.27,65.65 444.88,65.24 445.28,64.97 C445.69,64.70 445.63,64.65 446.50,64.16 C447.37,63.66 448.52,62.79 450.50,62.00 C452.48,61.21 455.97,59.57 458.40,59.40 C460.83,59.23 463.23,60.92 465.10,61.00 C466.97,61.08 468.10,61.12 469.60,59.90 C471.10,58.68 473.35,54.73 474.10,53.70" fill="none" stroke="#ff0f0f" stroke-width="1.60" stroke-linejoin="round" clip-path="url(#cb)"/>
<path d="M45.40,248.90 C45.73,248.95 44.80,248.35 47.40,249.20 C50.00,250.05 56.87,252.27 61.00,254.00 C65.13,255.73 68.20,257.73 72.20,259.60 C76.20,261.47 80.73,263.60 85.00,265.20 C89.27,266.80 93.27,268.08 97.80,269.20 C102.33,270.32 107.67,271.22 112.20,271.90 C116.73,272.58 120.20,272.97 125.00,273.30 C129.80,273.63 135.67,273.72 141.00,273.90 C146.33,274.08 151.67,274.20 157.00,274.40 C162.33,274.60 168.20,275.08 173.00,275.10 C177.80,275.12 182.08,274.88 185.80,274.50 C189.52,274.12 191.58,273.72 195.30,272.80 C199.02,271.88 204.27,270.10 208.10,269.00 C211.93,267.90 215.73,267.27 218.30,266.20 C220.87,265.13 221.78,263.57 223.50,262.60 C225.22,261.63 227.12,260.70 228.60,260.40 C230.08,260.10 231.23,260.43 232.40,260.80 C233.57,261.17 235.07,262.30 235.60,262.60" fill="none" stroke="#111111" stroke-width="1.60" stroke-linejoin="round" clip-path="url(#cla)"/>
<path d="M45.40,252.90 C45.73,252.95 44.80,252.48 47.40,253.20 C50.00,253.92 56.87,255.65 61.00,257.20 C65.13,258.75 68.20,260.77 72.20,262.50 C76.20,264.23 80.73,266.27 85.00,267.60 C89.27,268.93 93.27,269.67 97.80,270.50 C102.33,271.33 107.67,272.08 112.20,272.60 C116.73,273.12 120.20,273.35 125.00,273.60 C129.80,273.85 135.67,273.93 141.00,274.10 C146.33,274.27 151.67,274.40 157.00,274.60 C162.33,274.80 168.20,275.30 173.00,275.30 C177.80,275.30 182.08,274.98 185.80,274.60 C189.52,274.22 191.17,273.72 195.30,273.00 C199.43,272.28 206.82,271.20 210.60,270.30 C214.38,269.40 216.07,268.32 218.00,267.60 C219.93,266.88 220.65,265.55 222.20,266.00 C223.75,266.45 225.07,268.63 227.30,270.30 C229.53,271.97 234.22,275.05 235.60,276.00" fill="none" stroke="#1b9e77" stroke-width="1.60" stroke-linejoin="round" clip-path="url(#cla)"/>
<path d="M284.90,249.80 C285.15,249.83 284.42,249.30 286.40,250.00 C288.38,250.70 293.20,252.13 296.80,254.00 C300.40,255.87 304.27,259.20 308.00,261.20 C311.73,263.20 315.73,264.80 319.20,266.00 C322.67,267.20 325.33,267.65 328.80,268.40 C332.27,269.15 336.27,269.83 340.00,270.50 C343.73,271.17 347.20,271.62 351.20,272.40 C355.20,273.18 359.20,274.43 364.00,275.20 C368.80,275.97 374.67,276.63 380.00,277.00 C385.33,277.37 390.67,277.42 396.00,277.40 C401.33,277.38 408.00,277.15 412.00,276.90 C416.00,276.65 416.80,276.43 420.00,275.90 C423.20,275.37 427.33,274.70 431.20,273.70 C435.07,272.70 439.70,271.60 443.20,269.90 C446.70,268.20 449.63,265.63 452.20,263.50 C454.77,261.37 456.88,259.45 458.60,257.10 C460.32,254.75 461.22,251.92 462.50,249.40 C463.78,246.88 465.23,244.90 466.30,242.00 C467.37,239.10 468.15,233.67 468.90,232.00 C469.65,230.33 469.85,230.50 470.80,232.00 C471.75,233.50 473.97,239.50 474.60,241.00" fill="none" stroke="#111111" stroke-width="1.60" stroke-linejoin="round" clip-path="url(#clb)"/>
<path d="M284.90,252.90 C285.15,252.82 285.22,252.75 286.40,252.40 C287.58,252.05 290.15,251.10 292.00,250.80 C293.85,250.50 295.63,250.47 297.50,250.60 C299.37,250.73 300.92,250.77 303.20,251.60 C305.48,252.43 308.27,254.13 311.20,255.60 C314.13,257.07 317.87,259.07 320.80,260.40 C323.73,261.73 325.60,262.53 328.80,263.60 C332.00,264.67 336.27,265.73 340.00,266.80 C343.73,267.87 347.20,269.07 351.20,270.00 C355.20,270.93 359.20,271.63 364.00,272.40 C368.80,273.17 374.67,273.97 380.00,274.60 C385.33,275.23 390.67,275.82 396.00,276.20 C401.33,276.58 406.67,276.67 412.00,276.90 C417.33,277.13 422.67,277.52 428.00,277.60 C433.33,277.68 440.08,277.63 444.00,277.40 C447.92,277.17 449.28,276.90 451.50,276.20 C453.72,275.50 455.47,274.90 457.30,273.20 C459.13,271.50 461.00,268.37 462.50,266.00 C464.00,263.63 465.13,260.92 466.30,259.00 C467.47,257.08 468.12,254.18 469.50,254.50 C470.88,254.82 473.75,259.83 474.60,260.90" fill="none" stroke="#ff0f0f" stroke-width="1.60" stroke-linejoin="round" clip-path="url(#clb)"/>
<rect x="51.30" y="26.00" width="84.30" height="51.80" rx="2.2" fill="#ffffff" fill-opacity="0.8" stroke="#e2e2e2" stroke-width="0.8"/>
<line x1="55" y1="34.80" x2="79.2" y2="34.80" stroke="#7a7a7a" stroke-width="1.4"/>
<line x1="55" y1="51.20" x2="79.2" y2="51.20" stroke="#7a7a7a" stroke-width="1.4" stroke-dasharray="1.5 2.0"/>
<line x1="55" y1="67.60" x2="79.2" y2="67.60" stroke="#7a7a7a" stroke-width="1.4" stroke-dasharray="4.8 1.6"/>
<text x="87.8" y="38.60" font-size="10.6" textLength="32.5" lengthAdjust="spacingAndGlyphs">Median</text>
<text x="87.8" y="55.00" font-size="10.6" textLength="24.2" lengthAdjust="spacingAndGlyphs">Mean</text>
<text x="87.8" y="71.40" font-size="10.6" textLength="43.0" lengthAdjust="spacingAndGlyphs">16%, 84%</text>
<rect x="131.30" y="172.50" width="112.90" height="37.90" rx="2.2" fill="#ffffff" fill-opacity="0.8" stroke="#e2e2e2" stroke-width="0.8"/>
<line x1="135" y1="182.1" x2="159.2" y2="182.1" stroke="#111111" stroke-width="1.6"/>
<line x1="135" y1="198.6" x2="159.2" y2="198.6" stroke="#1b9e77" stroke-width="1.6"/>
<text x="167.5" y="186.0" font-size="10.6" textLength="71.7" lengthAdjust="spacingAndGlyphs">Original (500m)</text>
<text x="167.5" y="202.4" font-size="10.6" textLength="49.6" lengthAdjust="spacingAndGlyphs">New (2km)</text>
<rect x="343.60" y="175.20" width="139.40" height="35.00" rx="2.2" fill="#ffffff" fill-opacity="0.8" stroke="#e2e2e2" stroke-width="0.8"/>
<line x1="346.8" y1="183.2" x2="370.8" y2="183.2" stroke="#111111" stroke-width="1.6"/>
<line x1="346.8" y1="199.5" x2="370.8" y2="199.5" stroke="#ff0f0f" stroke-width="1.6"/>
<text x="379.3" y="187.4" font-size="10.6" textLength="98.7" lengthAdjust="spacingAndGlyphs">Original model (AA1)</text>
<text x="379.3" y="203.6" font-size="10.6" textLength="51.6" lengthAdjust="spacingAndGlyphs">AA1 model</text>
<rect x="45.50" y="20.50" width="204.00" height="196.00" fill="none" stroke="#606060" stroke-width="1.0"/>
<rect x="45.50" y="234.50" width="204.00" height="49.00" fill="none" stroke="#606060" stroke-width="1.0"/>
<rect x="284.50" y="20.50" width="204.00" height="196.00" fill="none" stroke="#606060" stroke-width="1.0"/>
<rect x="284.50" y="234.50" width="204.00" height="49.00" fill="none" stroke="#606060" stroke-width="1.0"/>
<g stroke="#606060" stroke-width="0.8">
<line x1="45.50" y1="216.50" x2="45.50" y2="217.80"/>
<line x1="45.50" y1="216.50" x2="44.20" y2="216.50"/>
<line x1="45.50" y1="201.75" x2="44.60" y2="201.75"/>
<line x1="45.50" y1="193.12" x2="44.60" y2="193.12"/>
<line x1="45.50" y1="187.00" x2="44.60" y2="187.00"/>
<line x1="45.50" y1="182.25" x2="44.60" y2="182.25"/>
<line x1="45.50" y1="178.37" x2="44.60" y2="178.37"/>
<line x1="45.50" y1="175.09" x2="44.60" y2="175.09"/>
<line x1="45.50" y1="172.25" x2="44.60" y2="172.25"/>
<line x1="45.50" y1="169.74" x2="44.60" y2="169.74"/>
<line x1="96.50" y1="216.50" x2="96.50" y2="217.80"/>
<line x1="45.50" y1="167.50" x2="44.20" y2="167.50"/>
<line x1="45.50" y1="152.75" x2="44.60" y2="152.75"/>
<line x1="45.50" y1="144.12" x2="44.60" y2="144.12"/>
<line x1="45.50" y1="138.00" x2="44.60" y2="138.00"/>
<line x1="45.50" y1="133.25" x2="44.60" y2="133.25"/>
<line x1="45.50" y1="129.37" x2="44.60" y2="129.37"/>
<line x1="45.50" y1="126.09" x2="44.60" y2="126.09"/>
<line x1="45.50" y1="123.25" x2="44.60" y2="123.25"/>
<line x1="45.50" y1="120.74" x2="44.60" y2="120.74"/>
<line x1="147.50" y1="216.50" x2="147.50" y2="217.80"/>
<line x1="45.50" y1="118.50" x2="44.20" y2="118.50"/>
<line x1="45.50" y1="103.75" x2="44.60" y2="103.75"/>
<line x1="45.50" y1="95.12" x2="44.60" y2="95.12"/>
<line x1="45.50" y1="89.00" x2="44.60" y2="89.00"/>
<line x1="45.50" y1="84.25" x2="44.60" y2="84.25"/>
<line x1="45.50" y1="80.37" x2="44.60" y2="80.37"/>
<line x1="45.50" y1="77.09" x2="44.60" y2="77.09"/>
<line x1="45.50" y1="74.25" x2="44.60" y2="74.25"/>
<line x1="45.50" y1="71.74" x2="44.60" y2="71.74"/>
<line x1="198.50" y1="216.50" x2="198.50" y2="217.80"/>
<line x1="45.50" y1="69.50" x2="44.20" y2="69.50"/>
<line x1="45.50" y1="54.75" x2="44.60" y2="54.75"/>
<line x1="45.50" y1="46.12" x2="44.60" y2="46.12"/>
<line x1="45.50" y1="40.00" x2="44.60" y2="40.00"/>
<line x1="45.50" y1="35.25" x2="44.60" y2="35.25"/>
<line x1="45.50" y1="31.37" x2="44.60" y2="31.37"/>
<line x1="45.50" y1="28.09" x2="44.60" y2="28.09"/>
<line x1="45.50" y1="25.25" x2="44.60" y2="25.25"/>
<line x1="45.50" y1="22.74" x2="44.60" y2="22.74"/>
<line x1="249.50" y1="216.50" x2="249.50" y2="217.80"/>
<line x1="45.50" y1="20.50" x2="44.20" y2="20.50"/>
<line x1="45.50" y1="283.50" x2="45.50" y2="284.80"/>
<line x1="96.50" y1="283.50" x2="96.50" y2="284.80"/>
<line x1="147.50" y1="283.50" x2="147.50" y2="284.80"/>
<line x1="198.50" y1="283.50" x2="198.50" y2="284.80"/>
<line x1="249.50" y1="283.50" x2="249.50" y2="284.80"/>
<line x1="45.50" y1="283.50" x2="44.20" y2="283.50"/>
<line x1="45.50" y1="250.83" x2="44.20" y2="250.83"/>
</g>
<g stroke="#606060" stroke-width="0.8">
<line x1="284.50" y1="216.50" x2="284.50" y2="217.80"/>
<line x1="284.50" y1="216.50" x2="283.20" y2="216.50"/>
<line x1="284.50" y1="201.75" x2="283.60" y2="201.75"/>
<line x1="284.50" y1="193.12" x2="283.60" y2="193.12"/>
<line x1="284.50" y1="187.00" x2="283.60" y2="187.00"/>
<line x1="284.50" y1="182.25" x2="283.60" y2="182.25"/>
<line x1="284.50" y1="178.37" x2="283.60" y2="178.37"/>
<line x1="284.50" y1="175.09" x2="283.60" y2="175.09"/>
<line x1="284.50" y1="172.25" x2="283.60" y2="172.25"/>
<line x1="284.50" y1="169.74" x2="283.60" y2="169.74"/>
<line x1="335.50" y1="216.50" x2="335.50" y2="217.80"/>
<line x1="284.50" y1="167.50" x2="283.20" y2="167.50"/>
<line x1="284.50" y1="152.75" x2="283.60" y2="152.75"/>
<line x1="284.50" y1="144.12" x2="283.60" y2="144.12"/>
<line x1="284.50" y1="138.00" x2="283.60" y2="138.00"/>
<line x1="284.50" y1="133.25" x2="283.60" y2="133.25"/>
<line x1="284.50" y1="129.37" x2="283.60" y2="129.37"/>
<line x1="284.50" y1="126.09" x2="283.60" y2="126.09"/>
<line x1="284.50" y1="123.25" x2="283.60" y2="123.25"/>
<line x1="284.50" y1="120.74" x2="283.60" y2="120.74"/>
<line x1="386.50" y1="216.50" x2="386.50" y2="217.80"/>
<line x1="284.50" y1="118.50" x2="283.20" y2="118.50"/>
<line x1="284.50" y1="103.75" x2="283.60" y2="103.75"/>
<line x1="284.50" y1="95.12" x2="283.60" y2="95.12"/>
<line x1="284.50" y1="89.00" x2="283.60" y2="89.00"/>
<line x1="284.50" y1="84.25" x2="283.60" y2="84.25"/>
<line x1="284.50" y1="80.37" x2="283.60" y2="80.37"/>
<line x1="284.50" y1="77.09" x2="283.60" y2="77.09"/>
<line x1="284.50" y1="74.25" x2="283.60" y2="74.25"/>
<line x1="284.50" y1="71.74" x2="283.60" y2="71.74"/>
<line x1="437.50" y1="216.50" x2="437.50" y2="217.80"/>
<line x1="284.50" y1="69.50" x2="283.20" y2="69.50"/>
<line x1="284.50" y1="54.75" x2="283.60" y2="54.75"/>
<line x1="284.50" y1="46.12" x2="283.60" y2="46.12"/>
<line x1="284.50" y1="40.00" x2="283.60" y2="40.00"/>
<line x1="284.50" y1="35.25" x2="283.60" y2="35.25"/>
<line x1="284.50" y1="31.37" x2="283.60" y2="31.37"/>
<line x1="284.50" y1="28.09" x2="283.60" y2="28.09"/>
<line x1="284.50" y1="25.25" x2="283.60" y2="25.25"/>
<line x1="284.50" y1="22.74" x2="283.60" y2="22.74"/>
<line x1="488.50" y1="216.50" x2="488.50" y2="217.80"/>
<line x1="284.50" y1="20.50" x2="283.20" y2="20.50"/>
<line x1="284.50" y1="283.50" x2="284.50" y2="284.80"/>
<line x1="335.50" y1="283.50" x2="335.50" y2="284.80"/>
<line x1="386.50" y1="283.50" x2="386.50" y2="284.80"/>
<line x1="437.50" y1="283.50" x2="437.50" y2="284.80"/>
<line x1="488.50" y1="283.50" x2="488.50" y2="284.80"/>
<line x1="284.50" y1="283.50" x2="283.20" y2="283.50"/>
<line x1="284.50" y1="250.83" x2="283.20" y2="250.83"/>
</g>
<text x="33.70" y="215.70" font-size="7.9" textLength="8.6" lengthAdjust="spacingAndGlyphs">−3</text>
<text x="33.20" y="219.80" font-size="11.3" text-anchor="end">10</text>
<text x="35.50" y="227.60" font-size="11.3">10</text>
<text x="46.30" y="224.10" font-size="7.9" textLength="8.6" lengthAdjust="spacingAndGlyphs">−3</text>
<text x="35.50" y="294.60" font-size="11.3">10</text>
<text x="46.30" y="291.10" font-size="7.9" textLength="8.6" lengthAdjust="spacingAndGlyphs">−3</text>
<text x="33.70" y="166.70" font-size="7.9" textLength="8.6" lengthAdjust="spacingAndGlyphs">−2</text>
<text x="33.20" y="170.80" font-size="11.3" text-anchor="end">10</text>
<text x="86.50" y="227.60" font-size="11.3">10</text>
<text x="97.30" y="224.10" font-size="7.9" textLength="8.6" lengthAdjust="spacingAndGlyphs">−2</text>
<text x="86.50" y="294.60" font-size="11.3">10</text>
<text x="97.30" y="291.10" font-size="7.9" textLength="8.6" lengthAdjust="spacingAndGlyphs">−2</text>
<text x="33.70" y="117.70" font-size="7.9" textLength="8.6" lengthAdjust="spacingAndGlyphs">−1</text>
<text x="33.20" y="121.80" font-size="11.3" text-anchor="end">10</text>
<text x="137.50" y="227.60" font-size="11.3">10</text>
<text x="148.30" y="224.10" font-size="7.9" textLength="8.6" lengthAdjust="spacingAndGlyphs">−1</text>
<text x="137.50" y="294.60" font-size="11.3">10</text>
<text x="148.30" y="291.10" font-size="7.9" textLength="8.6" lengthAdjust="spacingAndGlyphs">−1</text>
<text x="42.80" y="68.70" font-size="7.9" text-anchor="end">0</text>
<text x="38.70" y="72.80" font-size="11.3" text-anchor="end">10</text>
<text x="190.85" y="227.60" font-size="11.3">10</text>
<text x="201.45" y="224.10" font-size="7.9" text-anchor="start">0</text>
<text x="190.85" y="294.60" font-size="11.3">10</text>
<text x="201.45" y="291.10" font-size="7.9" text-anchor="start">0</text>
<text x="42.80" y="19.70" font-size="7.9" text-anchor="end">1</text>
<text x="38.70" y="23.80" font-size="11.3" text-anchor="end">10</text>
<text x="241.85" y="227.60" font-size="11.3">10</text>
<text x="252.45" y="224.10" font-size="7.9" text-anchor="start">1</text>
<text x="241.85" y="294.60" font-size="11.3">10</text>
<text x="252.45" y="291.10" font-size="7.9" text-anchor="start">1</text>
<text x="42.40" y="254.6" font-size="11" text-anchor="end">200</text>
<text x="42.40" y="287.6" font-size="11" text-anchor="end">0</text>
<text x="272.70" y="215.70" font-size="7.9" textLength="8.6" lengthAdjust="spacingAndGlyphs">−3</text>
<text x="272.20" y="219.80" font-size="11.3" text-anchor="end">10</text>
<text x="274.50" y="227.60" font-size="11.3">10</text>
<text x="285.30" y="224.10" font-size="7.9" textLength="8.6" lengthAdjust="spacingAndGlyphs">−3</text>
<text x="274.50" y="294.60" font-size="11.3">10</text>
<text x="285.30" y="291.10" font-size="7.9" textLength="8.6" lengthAdjust="spacingAndGlyphs">−3</text>
<text x="272.70" y="166.70" font-size="7.9" textLength="8.6" lengthAdjust="spacingAndGlyphs">−2</text>
<text x="272.20" y="170.80" font-size="11.3" text-anchor="end">10</text>
<text x="325.50" y="227.60" font-size="11.3">10</text>
<text x="336.30" y="224.10" font-size="7.9" textLength="8.6" lengthAdjust="spacingAndGlyphs">−2</text>
<text x="325.50" y="294.60" font-size="11.3">10</text>
<text x="336.30" y="291.10" font-size="7.9" textLength="8.6" lengthAdjust="spacingAndGlyphs">−2</text>
<text x="272.70" y="117.70" font-size="7.9" textLength="8.6" lengthAdjust="spacingAndGlyphs">−1</text>
<text x="272.20" y="121.80" font-size="11.3" text-anchor="end">10</text>
<text x="376.50" y="227.60" font-size="11.3">10</text>
<text x="387.30" y="224.10" font-size="7.9" textLength="8.6" lengthAdjust="spacingAndGlyphs">−1</text>
<text x="376.50" y="294.60" font-size="11.3">10</text>
<text x="387.30" y="291.10" font-size="7.9" textLength="8.6" lengthAdjust="spacingAndGlyphs">−1</text>
<text x="281.80" y="68.70" font-size="7.9" text-anchor="end">0</text>
<text x="277.70" y="72.80" font-size="11.3" text-anchor="end">10</text>
<text x="429.85" y="227.60" font-size="11.3">10</text>
<text x="440.45" y="224.10" font-size="7.9" text-anchor="start">0</text>
<text x="429.85" y="294.60" font-size="11.3">10</text>
<text x="440.45" y="291.10" font-size="7.9" text-anchor="start">0</text>
<text x="281.80" y="19.70" font-size="7.9" text-anchor="end">1</text>
<text x="277.70" y="23.80" font-size="11.3" text-anchor="end">10</text>
<text x="480.85" y="227.60" font-size="11.3">10</text>
<text x="491.45" y="224.10" font-size="7.9" text-anchor="start">1</text>
<text x="480.85" y="294.60" font-size="11.3">10</text>
<text x="491.45" y="291.10" font-size="7.9" text-anchor="start">1</text>
<text x="281.40" y="254.6" font-size="11" text-anchor="end">200</text>
<text x="281.40" y="287.6" font-size="11" text-anchor="end">0</text>
<text x="96.20" y="310.9" font-size="14.6" textLength="86.20" lengthAdjust="spacingAndGlyphs">IWC true [g m</text>
<text x="184.00" y="306.0" font-size="10.2" textLength="11.2" lengthAdjust="spacingAndGlyphs">−3</text>
<text x="195.30" y="310.9" font-size="14.6">]</text>
<text x="335.20" y="310.9" font-size="14.6" textLength="86.20" lengthAdjust="spacingAndGlyphs">IWC true [g m</text>
<text x="423.00" y="306.0" font-size="10.2" textLength="11.2" lengthAdjust="spacingAndGlyphs">−3</text>
<text x="434.30" y="310.9" font-size="14.6">]</text>
<text x="46.00" y="17.0" font-size="17.5" fill="#505050" style="fill:#505050">(</text>
<text x="50.60" y="16.6" font-size="14.6">a</text>
<text x="57.40" y="17.0" font-size="17.5" style="fill:#505050">)</text>
<text x="284.60" y="17.0" font-size="17.5" fill="#505050" style="fill:#505050">(</text>
<text x="289.20" y="16.6" font-size="14.6">b</text>
<text x="296.80" y="17.0" font-size="17.5" style="fill:#505050">)</text>
<g transform="translate(17.1,200.5) rotate(-90)"><text x="0" y="0" font-size="14.6" textLength="148" lengthAdjust="spacingAndGlyphs">IWC retrieval mean [g m</text><text x="149.5" y="-4.9" font-size="10.2" textLength="11.5" lengthAdjust="spacingAndGlyphs">−3</text><text x="161.2" y="0" font-size="14.6">]</text></g>
<g transform="translate(21.9,286.3) rotate(-90)"><text x="0" y="0" font-size="14.6" textLength="30.8" lengthAdjust="spacingAndGlyphs">MFE</text><text x="36.0" y="0" font-size="14.6" textLength="17.6" lengthAdjust="spacingAndGlyphs">[%]</text></g>
</svg></body></html>
